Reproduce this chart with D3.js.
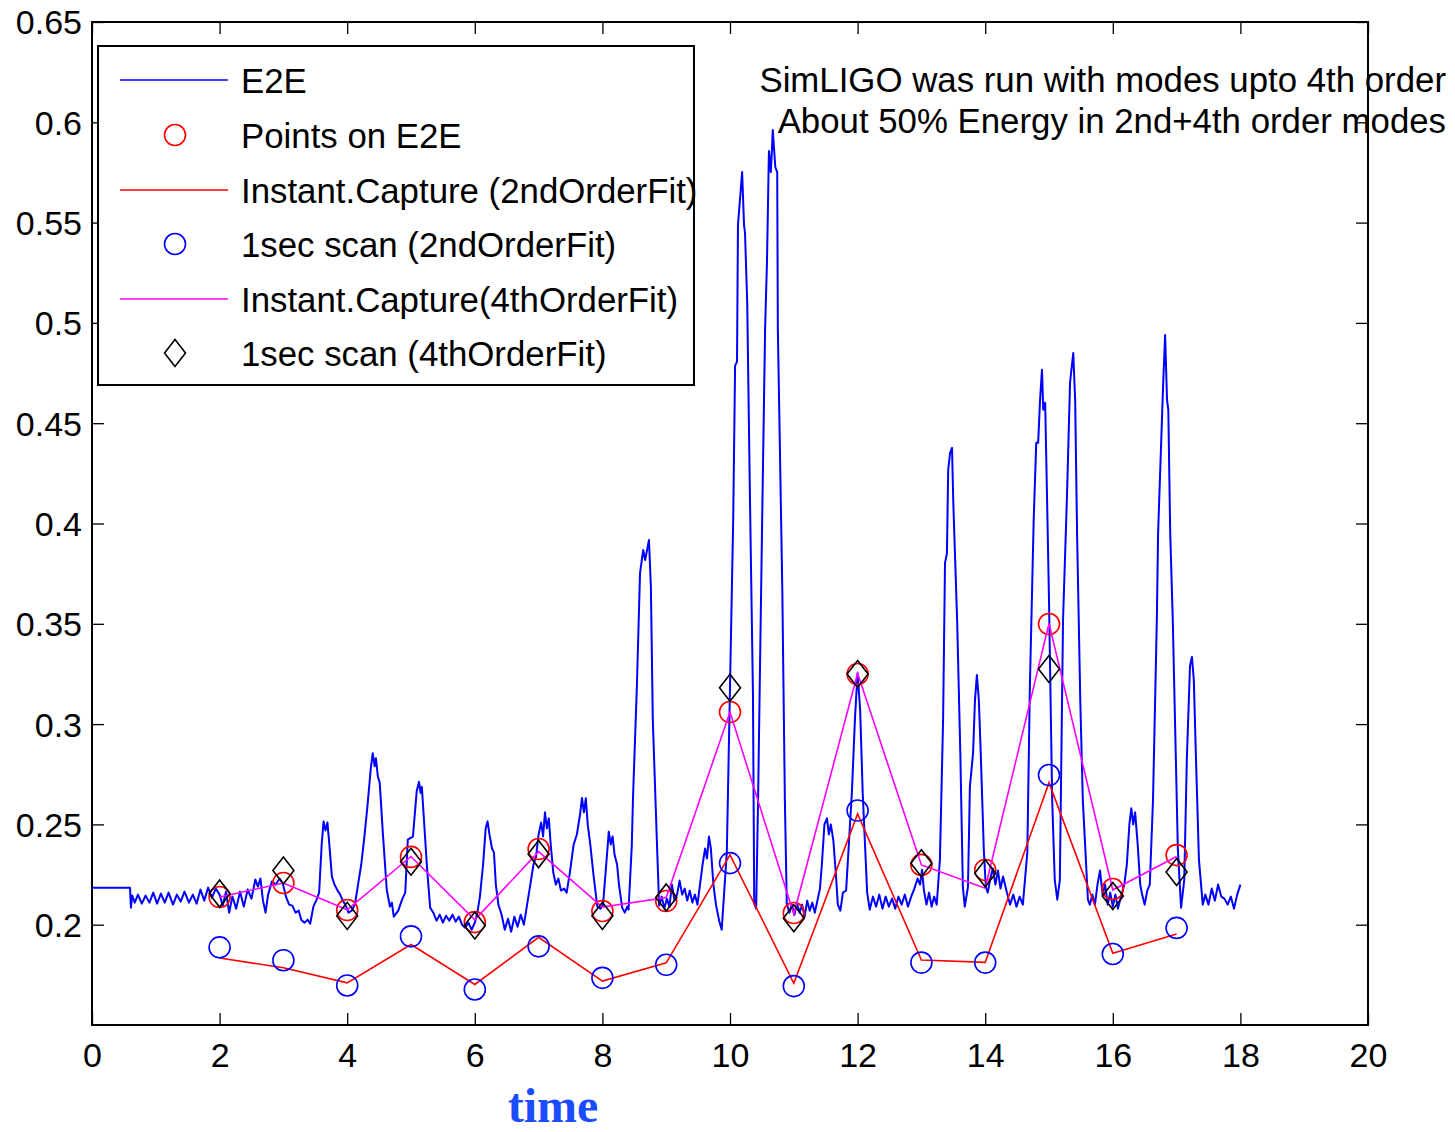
<!DOCTYPE html>
<html>
<head>
<meta charset="utf-8">
<script src="https://cdn.jsdelivr.net/npm/d3@7"></script>
<style>
  html, body { margin: 0; padding: 0; background: #fff; }
  svg { display: block; }
  text { font-family: "Liberation Sans", Arial, Helvetica, sans-serif; }
</style>
</head>
<body>
<svg id="chart" width="1455" height="1132"></svg>
<script>
// ---------- data ----------
const xTicks = [0, 2, 4, 6, 8, 10, 12, 14, 16, 18, 20];
const yTicks = [0.2, 0.25, 0.3, 0.35, 0.4, 0.45, 0.5, 0.55, 0.6, 0.65];

// E2E trace (time, value)
const e2eTime = [
  0, 0.596, 0.61, 0.63, 0.67, 0.72, 0.78, 0.84, 0.90, 0.96, 1.02, 1.08, 1.14, 1.20, 1.27, 1.33, 1.39, 1.45, 1.52, 1.58, 1.64,
  1.70, 1.76, 1.82, 1.88, 1.94, 2.00, 2.05, 2.10, 2.15, 2.20, 2.26, 2.32, 2.38, 2.44, 2.50, 2.56, 2.60, 2.64, 2.68, 2.72, 2.76,
  2.82, 2.88, 2.94, 2.99, 3.04, 3.09, 3.14, 3.19, 3.24, 3.28, 3.33, 3.38, 3.42, 3.47, 3.52, 3.56, 3.60, 3.63, 3.66, 3.69, 3.72,
  3.76, 3.80, 3.85, 3.89, 3.93, 3.97, 4.02, 4.07, 4.12, 4.17, 4.22, 4.27, 4.32, 4.37, 4.40, 4.43, 4.45, 4.48, 4.51, 4.56,
  4.62, 4.67, 4.70, 4.73, 4.80, 4.86, 4.91, 4.95, 5.03, 5.09, 5.125, 5.15, 5.17, 5.19, 5.25, 5.30,
  5.35, 5.40, 5.45, 5.50, 5.55, 5.60, 5.65, 5.70, 5.75, 5.80, 5.85, 5.90, 5.95, 6.00, 6.04, 6.08, 6.13, 6.17, 6.20, 6.23,
  6.27, 6.30, 6.33, 6.37, 6.42, 6.47, 6.52, 6.57, 6.62, 6.67, 6.72, 6.77, 6.82, 6.87, 6.92, 6.96, 7.00, 7.04, 7.07, 7.10,
  7.13, 7.16, 7.19, 7.23, 7.27, 7.31, 7.35, 7.40, 7.44, 7.49, 7.55, 7.60, 7.65, 7.68, 7.71, 7.74, 7.77, 7.81, 7.86,
  7.92, 7.97, 8.01, 8.06, 8.10, 8.13, 8.16, 8.19, 8.23, 8.26, 8.31, 8.35, 8.39, 8.41, 8.46, 8.48, 8.54, 8.59, 8.64, 8.67,
  8.73, 8.76, 8.79, 8.86, 8.89, 8.93, 8.97, 9.01, 9.05, 9.09, 9.13, 9.17, 9.21, 9.25, 9.29, 9.33, 9.37, 9.41, 9.45, 9.49,
  9.53, 9.57, 9.61, 9.64, 9.67, 9.70, 9.74, 9.78, 9.83, 9.87, 9.95, 10.00, 10.05, 10.08, 10.11, 10.125, 10.19, 10.22, 10.235,
  10.27, 10.31, 10.36, 10.38, 10.41, 10.44, 10.50, 10.55, 10.58, 10.61, 10.64, 10.66, 10.67, 10.71, 10.74, 10.75, 10.82,
  10.86, 10.89, 10.93, 10.97, 11.01, 11.05, 11.09, 11.13, 11.17, 11.21, 11.25, 11.29, 11.33, 11.37, 11.41, 11.44, 11.48,
  11.52, 11.55, 11.58, 11.62, 11.66, 11.69, 11.73, 11.77, 11.82, 11.91, 11.96, 12.00, 12.04, 12.08, 12.15, 12.19,
  12.24, 12.29, 12.34, 12.39, 12.44, 12.49, 12.54, 12.59, 12.64, 12.69, 12.74, 12.79, 12.84, 12.89, 12.94, 12.98, 13.01,
  13.04, 13.08, 13.12, 13.16, 13.20, 13.24, 13.26, 13.29, 13.34, 13.37, 13.40, 13.42, 13.45, 13.48, 13.50, 13.56, 13.61,
  13.65, 13.68, 13.73, 13.76, 13.81, 13.84, 13.87, 13.90, 13.93, 13.98, 14.01, 14.04, 14.08, 14.12, 14.16, 14.20, 14.24,
  14.28, 14.34, 14.39, 14.44, 14.49, 14.54, 14.59, 14.66, 14.70, 14.76, 14.80, 14.83, 14.86, 14.89, 14.91, 14.94, 14.97,
  15.00, 15.05, 15.09, 15.13, 15.17, 15.22, 15.28, 15.33, 15.38, 15.41, 15.44, 15.49, 15.53, 15.61, 15.64, 15.68, 15.72,
  15.76, 15.80, 15.84, 15.88, 15.92, 15.96, 16.00, 16.04, 16.08, 16.12, 16.18, 16.22, 16.26, 16.29, 16.32, 16.35, 16.39,
  16.43, 16.46, 16.50, 16.54, 16.58, 16.63, 16.69, 16.71, 16.79, 16.82, 16.85, 16.87, 16.90, 16.94, 17.02, 17.07, 17.12,
  17.16, 17.21, 17.24, 17.27, 17.30, 17.35, 17.41, 17.45, 17.50, 17.55, 17.60, 17.65, 17.70, 17.75, 17.80, 17.85, 17.90,
  17.95, 18.00
];
const e2eValue = [
  0.2184, 0.2184, 0.2085, 0.2145, 0.2110, 0.2150, 0.2105, 0.2145, 0.2110, 0.2160, 0.2105, 0.2155, 0.2110, 0.2160, 0.2100, 0.2150, 0.2115, 0.2165, 0.2110, 0.2150, 0.2105,
  0.2175, 0.2120, 0.2185, 0.2135, 0.2180, 0.2150, 0.2095, 0.2165, 0.2060, 0.2140, 0.2080, 0.2165, 0.2090, 0.2175, 0.2130, 0.2225, 0.2190, 0.2230, 0.2120, 0.2060, 0.2150,
  0.2215, 0.2200, 0.2230, 0.2205, 0.2140, 0.2100, 0.2095, 0.2060, 0.2070, 0.2025, 0.2010, 0.2025, 0.2005, 0.2090, 0.2125, 0.2160, 0.2400, 0.2515, 0.2470, 0.2510, 0.2400,
  0.2240, 0.2200, 0.2170, 0.2150, 0.2120, 0.2100, 0.2060, 0.2070, 0.2100, 0.2200, 0.2300, 0.2440, 0.2600, 0.2780, 0.2855, 0.2790, 0.2830, 0.2740, 0.2707, 0.2450,
  0.2174, 0.2090, 0.2110, 0.2040, 0.2070, 0.2125, 0.2160, 0.2424, 0.2439, 0.2667, 0.2712, 0.2657, 0.2687, 0.2588, 0.2289, 0.2085,
  0.2060, 0.2020, 0.2050, 0.2010, 0.2045, 0.2020, 0.2050, 0.2015, 0.2040, 0.2000, 0.1985, 0.2010, 0.1975, 0.2010, 0.2060, 0.2140, 0.2300, 0.2480, 0.2515, 0.2450,
  0.2380, 0.2360, 0.2200, 0.2100, 0.2050, 0.1975, 0.2030, 0.1965, 0.2040, 0.1990, 0.2050, 0.2000, 0.2100, 0.2200, 0.2300, 0.2340, 0.2450, 0.2510, 0.2440, 0.2560,
  0.2480, 0.2530, 0.2400, 0.2260, 0.2200, 0.2230, 0.2170, 0.2180, 0.2160, 0.2260, 0.2400, 0.2450, 0.2550, 0.2632, 0.2560, 0.2630, 0.2500, 0.2400, 0.2250,
  0.2090, 0.2080, 0.2100, 0.2300, 0.2464, 0.2400, 0.2440, 0.2350, 0.2300, 0.2200, 0.2085, 0.2060, 0.2090, 0.2075, 0.2389, 0.2637, 0.3185, 0.3754, 0.3868, 0.3818,
  0.3918, 0.3684, 0.3021, 0.2359, 0.2095, 0.2140, 0.2080, 0.2130, 0.2090, 0.2200, 0.2120, 0.2150, 0.2220, 0.2150, 0.2180, 0.2120, 0.2170, 0.2110, 0.2150, 0.2100,
  0.2200, 0.2300, 0.2380, 0.2330, 0.2440, 0.2380, 0.2200, 0.2100, 0.2020, 0.1975, 0.2359, 0.3185, 0.4018, 0.4787, 0.4807, 0.5488, 0.5752, 0.5488, 0.5450,
  0.5100, 0.4188, 0.3145, 0.2105, 0.2080, 0.2622, 0.3928, 0.4970, 0.5309, 0.5857, 0.5752, 0.5882, 0.5962, 0.5777, 0.5752, 0.4970, 0.3669,
  0.2622, 0.2105, 0.2060, 0.2100, 0.2050, 0.2110, 0.2060, 0.2100, 0.2040, 0.2120, 0.2070, 0.2110, 0.2060, 0.2120, 0.2180, 0.2300, 0.2500,
  0.2530, 0.2450, 0.2500, 0.2420, 0.2250, 0.2100, 0.2070, 0.2160, 0.2170, 0.2657, 0.3036, 0.3255, 0.3070, 0.2657, 0.2160, 0.2075,
  0.2140, 0.2090, 0.2150, 0.2080, 0.2140, 0.2090, 0.2130, 0.2080, 0.2140, 0.2100, 0.2150, 0.2090, 0.2140, 0.2180, 0.2230, 0.2200, 0.2274,
  0.2170, 0.2100, 0.2160, 0.2090, 0.2140, 0.2100, 0.2189, 0.2324, 0.3021, 0.3803, 0.3850, 0.4267, 0.4352, 0.4377, 0.4103, 0.3519, 0.2856,
  0.2189, 0.2090, 0.2189, 0.2687, 0.2856, 0.3121, 0.3245, 0.3121, 0.2856, 0.2359, 0.2189, 0.2160, 0.2230, 0.2280, 0.2200, 0.2270, 0.2180,
  0.2240, 0.2160, 0.2100, 0.2150, 0.2090, 0.2140, 0.2100, 0.2359, 0.3185, 0.4018, 0.4402, 0.4402, 0.4617, 0.4767, 0.4567, 0.4602, 0.4118,
  0.3619, 0.2622, 0.2224, 0.2125, 0.2224, 0.3519, 0.4118, 0.4702, 0.4850, 0.4617, 0.3953, 0.3121, 0.2622, 0.2125, 0.2100, 0.2150, 0.2100,
  0.2200, 0.2270, 0.2150, 0.2200, 0.2100, 0.2160, 0.2090, 0.2150, 0.2080, 0.2130, 0.2200, 0.2300, 0.2500, 0.2580, 0.2500, 0.2560, 0.2400,
  0.2200, 0.2150, 0.2100, 0.2170, 0.2200, 0.2622, 0.3519, 0.3953, 0.4702, 0.4940, 0.4617, 0.4567, 0.3953, 0.3519, 0.2374, 0.2085, 0.2224,
  0.2820, 0.3290, 0.3335, 0.3220, 0.2870, 0.2324, 0.2100, 0.2150, 0.2100, 0.2180, 0.2120, 0.2200, 0.2140, 0.2130, 0.2100, 0.2140, 0.2080,
  0.2150, 0.2200
];

// discrete scans at integer times
const scanTimes   = [2, 3, 4, 5, 6, 7, 8, 9, 10, 11, 12, 13, 14, 15, 16, 17];
const pointsOnE2E = [0.2138, 0.2208, 0.2073, 0.2338, 0.2013, 0.2377, 0.2068, 0.2118, 0.3060, 0.2058, 0.3250, 0.2298, 0.2273, 0.3499, 0.2178, 0.2347];
const instant2nd  = [0.1834, 0.1785, 0.1710, 0.1901, 0.1702, 0.1937, 0.1719, 0.1810, 0.2348, 0.1708, 0.2552, 0.1824, 0.1812, 0.2708, 0.1857, 0.1954];
const scan2nd     = [0.1887, 0.1823, 0.1697, 0.1942, 0.1677, 0.1892, 0.1735, 0.1800, 0.2307, 0.1694, 0.2569, 0.1811, 0.1811, 0.2746, 0.1854, 0.1984];
const instant4th  = [0.2138, 0.2208, 0.2074, 0.2340, 0.2024, 0.2364, 0.2088, 0.2136, 0.3060, 0.2053, 0.3253, 0.2298, 0.2182, 0.3502, 0.2173, 0.2340];
const scan4th     = [0.2155, 0.2270, 0.2044, 0.2314, 0.1996, 0.2352, 0.2044, 0.2136, 0.3181, 0.2032, 0.3250, 0.2306, 0.2256, 0.3275, 0.2143, 0.2263];

const legendLabels = ["E2E", "Points on E2E", "Instant.Capture (2ndOrderFit)", "1sec scan (2ndOrderFit)",
                      "Instant.Capture(4thOrderFit)", "1sec scan (4thOrderFit)"];
const noteLines = ["SimLIGO was run with modes upto 4th order", "About 50% Energy in 2nd+4th order modes"];
const xLabel = "time";

// ---------- layout ----------
const L = 92, R = 1368, T = 22, B = 1025;
const FS = 34.8;
const svg = d3.select("#chart");

const x = d3.scaleLinear().domain([0, 20]).range([L, R]);
const y = d3.scaleLinear().domain([0.15, 0.65]).range([B, T]);

const fmt = d => String(+d.toFixed(2));

// axes (ticks inside, MATLAB box)
function styleAxis(g, labels) {
  g.select(".domain").remove();
  g.selectAll(".tick line").attr("stroke", "#000").attr("stroke-width", 1.3);
  g.selectAll(".tick text").attr("fill", "#000").style("font-size", "34px")
    .style("font-family", '"Liberation Sans", Arial, Helvetica, sans-serif');
  if (!labels) g.selectAll(".tick text").remove();
}
svg.append("g").attr("transform", `translate(0,${B})`)
  .call(d3.axisBottom(x).tickValues(xTicks).tickFormat(fmt).tickSizeInner(-12).tickSizeOuter(0).tickPadding(11))
  .call(g => styleAxis(g, true))
  .call(g => g.selectAll(".tick text").attr("dy", "0.9em"));
svg.append("g").attr("transform", `translate(0,${T})`)
  .call(d3.axisTop(x).tickValues(xTicks).tickSizeInner(-12).tickSizeOuter(0))
  .call(g => styleAxis(g, false));
svg.append("g").attr("transform", `translate(${L},0)`)
  .call(d3.axisLeft(y).tickValues(yTicks).tickFormat(fmt).tickSizeInner(-12).tickSizeOuter(0).tickPadding(10))
  .call(g => styleAxis(g, true))
  .call(g => g.selectAll(".tick text").attr("x", -10).attr("dy", "0.35em"));
svg.append("g").attr("transform", `translate(${R},0)`)
  .call(d3.axisRight(y).tickValues(yTicks).tickSizeInner(-12).tickSizeOuter(0))
  .call(g => styleAxis(g, false));

// frame
svg.append("rect").attr("x", L).attr("y", T).attr("width", R - L).attr("height", B - T)
  .attr("fill", "none").attr("stroke", "#000").attr("stroke-width", 2);

// series
const e2e = e2eTime.map((t, i) => [t, e2eValue[i]]);
const line = d3.line().x(d => x(d[0])).y(d => y(d[1]));

svg.append("path").datum(e2e).attr("d", line)
  .attr("fill", "none").attr("stroke", "#0000ff").attr("stroke-width", 2).attr("stroke-linejoin", "round");

const zipped = arr => scanTimes.map((t, i) => [t, arr[i]]);
const R_MARK = 10.5;

svg.append("g").selectAll("circle").data(zipped(pointsOnE2E)).join("circle")
  .attr("cx", d => x(d[0])).attr("cy", d => y(d[1])).attr("r", R_MARK)
  .attr("fill", "none").attr("stroke", "#ff0000").attr("stroke-width", 1.6);

svg.append("path").datum(zipped(instant2nd)).attr("d", line)
  .attr("fill", "none").attr("stroke", "#ff0000").attr("stroke-width", 1.6);

svg.append("g").selectAll("circle").data(zipped(scan2nd)).join("circle")
  .attr("cx", d => x(d[0])).attr("cy", d => y(d[1])).attr("r", R_MARK)
  .attr("fill", "none").attr("stroke", "#0000ff").attr("stroke-width", 1.6);

svg.append("path").datum(zipped(instant4th)).attr("d", line)
  .attr("fill", "none").attr("stroke", "#ff00ff").attr("stroke-width", 1.6);

const diamond = (cx, cy) => `M${cx},${cy - 13.5}L${cx + 10.5},${cy}L${cx},${cy + 13.5}L${cx - 10.5},${cy}Z`;
svg.append("g").selectAll("path").data(zipped(scan4th)).join("path")
  .attr("d", d => diamond(x(d[0]), y(d[1])))
  .attr("fill", "none").attr("stroke", "#000").attr("stroke-width", 1.6);

// legend
const lg = svg.append("g");
lg.append("rect").attr("x", 98).attr("y", 46).attr("width", 596).attr("height", 339)
  .attr("fill", "#fff").attr("stroke", "#000").attr("stroke-width", 2);
const rowY = [80, 135, 190, 244, 299, 353];
const legendKinds = [
  {type: "line", color: "#0000ff"}, {type: "circle", color: "#ff0000"},
  {type: "line", color: "#ff0000"}, {type: "circle", color: "#0000ff"},
  {type: "line", color: "#ff00ff"}, {type: "diamond", color: "#000"}
];
legendLabels.forEach((lab, i) => {
  const k = legendKinds[i], yy = rowY[i];
  if (k.type === "line") {
    lg.append("line").attr("x1", 120).attr("x2", 228).attr("y1", yy).attr("y2", yy)
      .attr("stroke", k.color).attr("stroke-width", 1.6);
  } else if (k.type === "circle") {
    lg.append("circle").attr("cx", 175).attr("cy", yy).attr("r", R_MARK)
      .attr("fill", "none").attr("stroke", k.color).attr("stroke-width", 1.6);
  } else {
    lg.append("path").attr("d", diamond(175, yy))
      .attr("fill", "none").attr("stroke", k.color).attr("stroke-width", 1.6);
  }
  lg.append("text").attr("x", 241).attr("y", yy).attr("dy", "0.36em")
    .style("font-size", FS + "px").attr("fill", "#000").text(lab);
});

// annotation
noteLines.forEach((s, i) => {
  svg.append("text").attr("x", 1446).attr("y", [92, 133][i]).attr("text-anchor", "end")
    .style("font-size", FS + "px").attr("fill", "#000").text(s);
});

// x label
svg.append("text").attr("x", 553).attr("y", 1122).attr("text-anchor", "middle")
  .style("font-family", '"Liberation Serif", "Times New Roman", serif')
  .style("font-weight", "bold").style("font-size", "48px").attr("fill", "#1a4cff").text(xLabel);
</script>
</body>
</html>
